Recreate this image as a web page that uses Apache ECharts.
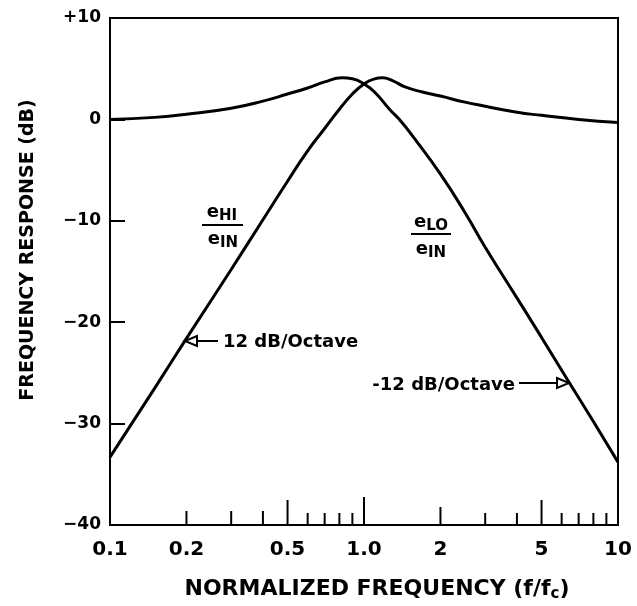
<!DOCTYPE html>
<html>
<head>
<meta charset="utf-8">
<script src="https://cdn.jsdelivr.net/npm/echarts@6/dist/echarts.min.js"></script>
<style>
  html, body { margin: 0; padding: 0; background: #fff; }
  #main { width: 637px; height: 606px; }
</style>
</head>
<body>
<div id="main"></div>
<script>
// high-pass output e_HI / e_IN (dB) vs normalized frequency
var hiFreq = [0.1, 0.15, 0.2, 0.3, 0.4, 0.5, 0.6, 0.7, 0.8, 0.9, 1.0, 1.1, 1.18, 1.3, 1.45, 1.7, 2.0, 2.5, 3.0, 4.0, 5.0, 7.0, 10];
var hiGain = [-33.3, -26.5, -21.6, -14.8, -9.9, -6.1, -3.1, -0.9, 1.0, 2.5, 3.5, 4.0, 4.1, 3.8, 3.2, 2.7, 2.3, 1.7, 1.3, 0.7, 0.4, 0.0, -0.3];

// low-pass output e_LO / e_IN (dB)
var loFreq = [0.1, 0.15, 0.2, 0.3, 0.4, 0.5, 0.6, 0.7, 0.82, 0.9, 1.0, 1.1, 1.26, 1.4, 1.56, 2.0, 2.5, 3.0, 4.0, 5.0, 6.3, 8.0, 10];
var loGain = [0.0, 0.2, 0.5, 1.1, 1.8, 2.5, 3.1, 3.7, 4.1, 4.0, 3.5, 2.7, 1.0, -0.2, -1.7, -5.4, -9.2, -12.6, -17.6, -21.5, -25.6, -29.8, -33.8];

// axis ticks and labels
var yMin = -40, yMax = 10, yStep = 10;
var xTickVals = [0.2, 0.3, 0.4, 0.5, 0.6, 0.7, 0.8, 0.9, 1, 2, 3, 4, 5, 6, 7, 8, 9];
var xLabelVals = [0.1, 0.2, 0.5, 1, 2, 5, 10];
var xLabels = ['0.1', '0.2', '0.5', '1.0', '2', '5', '10'];

var font = 'DejaVu Sans';

function pair(xs, ys) {
  return xs.map(function (x, i) { return [x, ys[i]]; });
}

function tickLength(v) {
  if (Math.abs(v - 1) < 1e-6) return 28;
  if (Math.abs(v - 0.5) < 1e-6 || Math.abs(v - 5) < 1e-6) return 25;
  if (Math.abs(v - 2) < 1e-6) return 18;
  if (Math.abs(v - 0.2) < 1e-6 || Math.abs(v - 0.3) < 1e-6 || Math.abs(v - 0.4) < 1e-6) return 14;
  return 12;
}

function xLabelFor(v) {
  for (var i = 0; i < xLabelVals.length; i++) {
    if (Math.abs(Math.log10(v) - Math.log10(xLabelVals[i])) < 1e-3) return xLabels[i];
  }
  return '';
}

var chartDom = document.getElementById('main');
var myChart = echarts.init(chartDom);
var option;

option = {
  animation: false,
  backgroundColor: '#fff',
  grid: {
    left: 110,
    right: 19,
    top: 18,
    bottom: 81,
    show: true,
    borderColor: '#000',
    borderWidth: 2
  },
  xAxis: {
    type: 'log',
    logBase: 10,
    min: 0.1,
    max: 10,
    axisLine: { show: true, onZero: false, lineStyle: { color: '#000', width: 2 } },
    axisTick: { show: false },
    splitLine: { show: false },
    minorTick: { show: false },
    axisLabel: {
      customValues: xLabelVals,
      margin: 15,
      color: '#000',
      fontFamily: font,
      fontWeight: 'bold',
      fontSize: 20,
      formatter: xLabelFor
    }
  },
  yAxis: {
    type: 'value',
    min: yMin,
    max: yMax,
    interval: yStep,
    axisLine: { show: true, lineStyle: { color: '#000', width: 2 } },
    axisTick: { show: true, inside: true, length: 15, lineStyle: { color: '#000', width: 2 } },
    splitLine: { show: false },
    axisLabel: {
      margin: 9,
      color: '#000',
      fontFamily: font,
      fontWeight: 'bold',
      fontSize: 17,
      formatter: function (v) {
        if (v > 0) return '+' + v;
        if (v < 0) return '\u2212' + Math.abs(v);
        return '0';
      }
    }
  },
  series: [
    {
      name: 'eHI/eIN',
      type: 'line',
      data: pair(hiFreq, hiGain),
      smooth: 0.5,
      showSymbol: false,
      lineStyle: { color: '#000', width: 3 }
    },
    {
      name: 'eLO/eIN',
      type: 'line',
      data: pair(loFreq, loGain),
      smooth: 0.5,
      showSymbol: false,
      lineStyle: { color: '#000', width: 3 }
    },
    {
      // ticks along the frequency axis
      name: 'ticks',
      type: 'custom',
      silent: true,
      data: xTickVals.map(function (v) { return [v, yMin]; }),
      encode: { x: 0, y: 1 },
      renderItem: function (params, api) {
        var v = api.value(0);
        var p = api.coord([v, yMin]);
        return {
          type: 'line',
          shape: { x1: p[0], y1: p[1], x2: p[0], y2: p[1] - tickLength(v) },
          style: { stroke: '#000', lineWidth: 2 }
        };
      }
    }
  ],
  graphic: [
    {
      type: 'text',
      x: 28,
      y: 250,
      rotation: Math.PI / 2,
      style: {
        text: 'FREQUENCY RESPONSE (dB)',
        fontFamily: font,
        fontWeight: 'bold',
        fontSize: 19,
        fill: '#000',
        align: 'center',
        verticalAlign: 'middle'
      }
    },
    {
      type: 'text',
      x: 377,
      y: 589,
      style: {
        text: 'NORMALIZED FREQUENCY (f/f{s|c})',
        fontFamily: font,
        fontWeight: 'bold',
        fontSize: 22,
        fill: '#000',
        align: 'center',
        verticalAlign: 'middle',
        rich: {
          s: { fontFamily: font, fontWeight: 'bold', fontSize: 15, padding: [10, 0, 0, 0] }
        }
      }
    },
    // e_HI / e_IN label
    {
      type: 'text', x: 222, y: 212,
      style: {
        text: 'e{s|HI}', fontFamily: font, fontWeight: 'bold', fontSize: 18, fill: '#000',
        align: 'center', verticalAlign: 'middle',
        rich: { s: { fontFamily: font, fontWeight: 'bold', fontSize: 15, padding: [8, 0, 0, 0] } }
      }
    },
    { type: 'line', shape: { x1: 202, y1: 225, x2: 243, y2: 225 }, style: { stroke: '#000', lineWidth: 2 } },
    {
      type: 'text', x: 223, y: 239,
      style: {
        text: 'e{s|IN}', fontFamily: font, fontWeight: 'bold', fontSize: 18, fill: '#000',
        align: 'center', verticalAlign: 'middle',
        rich: { s: { fontFamily: font, fontWeight: 'bold', fontSize: 15, padding: [8, 0, 0, 0] } }
      }
    },
    // e_LO / e_IN label
    {
      type: 'text', x: 431, y: 222,
      style: {
        text: 'e{s|LO}', fontFamily: font, fontWeight: 'bold', fontSize: 18, fill: '#000',
        align: 'center', verticalAlign: 'middle',
        rich: { s: { fontFamily: font, fontWeight: 'bold', fontSize: 15, padding: [8, 0, 0, 0] } }
      }
    },
    { type: 'line', shape: { x1: 411, y1: 234, x2: 451, y2: 234 }, style: { stroke: '#000', lineWidth: 2 } },
    {
      type: 'text', x: 431, y: 249,
      style: {
        text: 'e{s|IN}', fontFamily: font, fontWeight: 'bold', fontSize: 18, fill: '#000',
        align: 'center', verticalAlign: 'middle',
        rich: { s: { fontFamily: font, fontWeight: 'bold', fontSize: 15, padding: [8, 0, 0, 0] } }
      }
    },
    // 12 dB/Octave arrow
    {
      type: 'polygon',
      shape: { points: [[185, 341], [197, 336], [197, 346]] },
      style: { fill: '#fff', stroke: '#000', lineWidth: 2 }
    },
    { type: 'line', shape: { x1: 197, y1: 341, x2: 218, y2: 341 }, style: { stroke: '#000', lineWidth: 2 } },
    {
      type: 'text', x: 223, y: 342,
      style: { text: '12 dB/Octave', fontFamily: font, fontWeight: 'bold', fontSize: 18, fill: '#000', align: 'left', verticalAlign: 'middle' }
    },
    // -12 dB/Octave arrow
    {
      type: 'text', x: 515, y: 385,
      style: { text: '-12 dB/Octave', fontFamily: font, fontWeight: 'bold', fontSize: 18, fill: '#000', align: 'right', verticalAlign: 'middle' }
    },
    { type: 'line', shape: { x1: 519, y1: 383, x2: 557, y2: 383 }, style: { stroke: '#000', lineWidth: 2 } },
    {
      type: 'polygon',
      shape: { points: [[557, 378], [569, 383], [557, 388]] },
      style: { fill: '#fff', stroke: '#000', lineWidth: 2 }
    }
  ]
};

option && myChart.setOption(option);
</script>
</body>
</html>
